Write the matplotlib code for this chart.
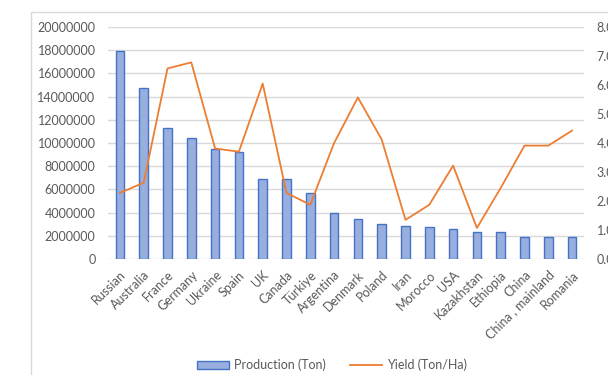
import matplotlib.pyplot as plt
from matplotlib.patches import Rectangle

countries = ["Russian", "Australia", "France", "Germany", "Ukraine", "Spain", "UK",
             "Canada", "Türkiye", "Argentina", "Denmark", "Poland", "Iran", "Morocco",
             "USA", "Kazakhstan", "Ethiopia", "China", "China , mainland", "Romania"]
production = [17950000, 14700000, 11300000, 10400000, 9480000, 9200000, 6900000,
              6900000, 5700000, 3970000, 3450000, 3000000, 2850000, 2750000,
              2600000, 2330000, 2330000, 1900000, 1900000, 1900000]
yield_ha = [2.28, 2.63, 6.57, 6.78, 3.81, 3.70, 6.05, 2.28, 1.87, 4.00, 5.57,
            4.12, 1.35, 1.87, 3.22, 1.07, 2.45, 3.91, 3.91, 4.43]

plt.rcParams["font.family"] = ["Lato", "DejaVu Sans"]
grey = "#595959"

fig = plt.figure(figsize=(6.08, 3.75), dpi=100)
# chart frame
fig.patches.append(Rectangle((31 / 608, -0.1), 1.2, 0.1 + (375 - 12) / 375,
                             transform=fig.transFigure, fill=False,
                             edgecolor="#D9D9D9", linewidth=1))

ax = fig.add_axes([108 / 608, 1 - 259 / 375, 476 / 608, 232 / 375])
x = range(len(countries))
bars = ax.bar(x, production, width=0.36, color="#97AEDF", edgecolor="#4472C4",
              linewidth=1, label="Production (Ton)", zorder=2)
ax.set_xlim(-0.5, len(countries) - 0.5)
ax.set_ylim(0, 20000000)
ax.set_yticks(range(0, 20000001, 2000000))
ax.set_yticklabels([str(v) for v in range(0, 20000001, 2000000)])
ax.grid(axis="y", color="#D9D9D9", linewidth=1, zorder=0)
for s in ax.spines.values():
    s.set_visible(False)
ax.tick_params(axis="y", length=0, pad=9, labelsize=9, labelcolor=grey)
ax.tick_params(axis="x", length=0, pad=7, labelsize=9, labelcolor=grey)
ax.set_xticks(list(x))
ax.set_xticklabels(countries, rotation=45, ha="right", rotation_mode="anchor")

ax2 = ax.twinx()
line, = ax2.plot(list(x), yield_ha, color="#ED7D31", linewidth=1.3,
                 label="Yield (Ton/Ha)", zorder=3)
ax2.set_ylim(0, 8)
ax2.set_yticks(range(0, 9))
ax2.set_yticklabels([f"{v:.1f}" for v in range(0, 9)])
for s in ax2.spines.values():
    s.set_visible(False)
ax2.tick_params(axis="y", length=0, pad=9, labelsize=9, labelcolor=grey)

fig.legend(handles=[bars, line], loc="center", bbox_to_anchor=(332 / 608, 1 - 365 / 375),
           ncol=2, frameon=False, fontsize=9, labelcolor=grey, handlelength=2.6,
           columnspacing=1.9, handletextpad=0.4)

fig.savefig("out.png", dpi=100)
